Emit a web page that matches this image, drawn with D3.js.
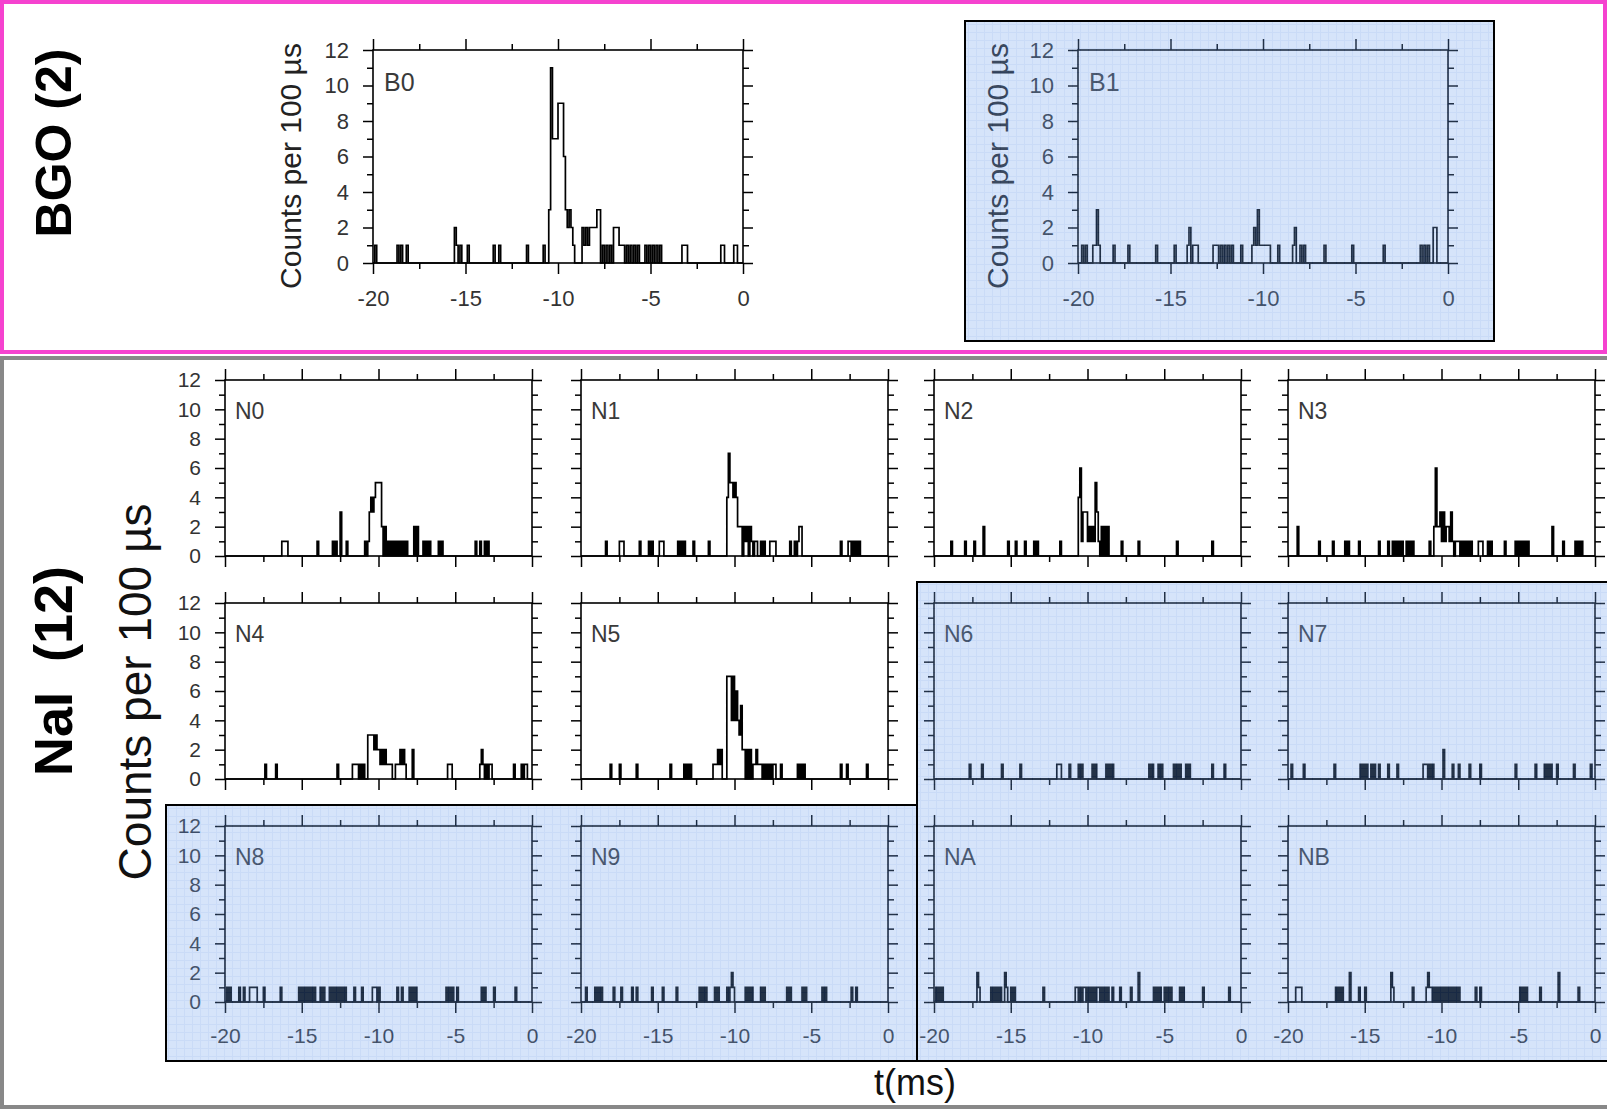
<!DOCTYPE html>
<html>
<head>
<meta charset="utf-8">
<script src="https://cdn.jsdelivr.net/npm/d3@7"></script>
<style>
  body { margin: 0; background: #fff; }
  svg { display: block; }
</style>
</head>
<body>
<div id="chart"></div>
<script>
// Non-zero 100 µs bins per detector: [bin start (ms), counts]
var b0Bins = [
  [-19.9,1],[-18.7,1],[-18.5,1],[-18.2,1],
  [-15.6,2],[-15.5,1],[-15.3,1],[-14.9,1],
  [-13.5,1],[-13.2,1],[-11.7,1],[-10.8,1],
  [-10.5,3],[-10.4,11],[-10.3,7],[-10.2,7],[-10.1,7],[-10.0,9],[-9.9,9],[-9.8,9],[-9.7,6],
  [-9.6,3],[-9.5,2],[-9.4,3],[-9.3,2],[-9.2,1],
  [-8.7,2],[-8.6,1],[-8.5,2],[-8.4,1],[-8.3,2],[-8.2,2],[-8.1,2],[-8.0,2],[-7.9,3],[-7.8,3],
  [-7.6,1],[-7.4,1],[-7.2,1],[-7.0,2],[-6.9,2],[-6.8,2],[-6.7,1],[-6.6,1],[-6.5,1],
  [-6.3,1],[-6.1,1],[-5.9,1],[-5.7,1],[-5.3,1],[-5.1,1],[-4.9,1],[-4.7,1],[-4.5,1],
  [-3.3,1],[-3.2,1],[-3.1,1],[-1.2,1],[-1.1,1],[-0.5,1],[-0.4,1]
];
var b1Bins = [
  [-19.8,1],[-19.6,1],[-19.2,1],[-19.1,1],[-19.0,3],[-18.9,1],[-18.1,1],[-17.3,1],[-15.8,1],[-14.8,1],
  [-14.1,1],[-14.0,2],[-13.8,1],[-13.7,1],[-13.6,1],
  [-12.7,1],[-12.6,1],[-12.5,1],[-12.3,1],[-12.1,1],[-11.9,1],[-11.7,1],[-11.2,1],
  [-10.6,1],[-10.5,2],[-10.4,1],[-10.3,3],[-10.2,1],[-10.1,1],[-10.0,1],[-9.9,1],[-9.8,1],[-9.7,1],
  [-9.2,1],[-8.4,1],[-8.3,2],[-8.0,1],[-7.8,1],[-6.7,1],[-5.2,1],[-3.5,1],
  [-1.5,1],[-1.3,1],[-1.1,1],[-0.8,2],[-0.7,2]
];
var n0Bins = [
  [-16.3,1],[-16.2,1],[-16.1,1],[-16.0,1],[-14.0,1],[-13.0,1],[-12.8,1],[-12.5,3],[-12.1,1],
  [-10.9,1],[-10.7,1],[-10.6,3],[-10.5,4],[-10.4,3],[-10.3,4],[-10.2,5],[-10.1,5],[-10.0,5],[-9.9,5],
  [-9.8,2],[-9.6,2],[-9.4,1],[-9.2,1],[-9.0,1],[-8.8,1],[-8.6,1],[-8.4,1],[-8.2,1],
  [-7.7,2],[-7.5,2],[-7.1,1],[-6.9,1],[-6.7,1],[-6.1,1],[-5.9,1],
  [-3.7,1],[-3.4,1],[-3.1,1],[-2.9,1]
];
var n1Bins = [
  [-18.4,1],[-17.5,1],[-17.4,1],[-17.3,1],[-16.2,1],[-15.6,1],[-15.4,1],[-14.9,1],[-14.8,1],[-14.7,1],
  [-13.7,1],[-13.5,1],[-13.3,1],[-12.7,1],[-11.7,1],
  [-10.5,4],[-10.4,7],[-10.3,5],[-10.2,5],[-10.1,4],[-10.0,5],[-9.9,4],[-9.8,2],[-9.7,2],
  [-9.6,2],[-9.4,2],[-9.3,1],[-9.2,2],[-9.0,2],
  [-8.9,1],[-8.7,1],[-8.6,1],[-8.3,1],[-8.1,1],[-7.7,1],[-7.6,1],[-7.5,1],[-7.4,1],
  [-6.4,1],[-6.1,1],[-5.9,1],[-5.8,2],[-5.7,2],
  [-3.1,1],[-2.6,1],[-2.5,1],[-2.3,1],[-2.1,1],[-1.9,1]
];
var n2Bins = [
  [-18.9,1],[-18.0,1],[-17.4,1],[-16.8,2],[-15.2,1],[-14.7,1],[-14.1,1],[-13.5,1],[-13.3,1],[-11.8,1],
  [-10.6,4],[-10.5,6],[-10.4,1],[-10.3,3],[-10.2,3],[-10.1,3],[-10.0,1],[-9.9,2],[-9.8,1],[-9.7,2],
  [-9.6,1],[-9.5,5],[-9.4,3],[-9.3,1],[-9.1,2],[-8.9,2],[-8.7,2],
  [-7.8,1],[-6.7,1],[-4.2,1],[-1.9,1]
];
var n3Bins = [
  [-19.4,2],[-18.0,1],[-17.1,1],[-16.3,1],[-16.1,1],[-15.4,1],[-14.1,1],
  [-13.5,1],[-13.2,1],[-13.0,1],[-12.8,1],[-12.6,1],[-12.3,1],[-12.1,1],[-11.9,1],
  [-10.8,1],[-10.5,2],[-10.4,6],[-10.3,2],[-10.2,2],[-10.1,3],[-10.0,1],[-9.9,3],[-9.8,1],[-9.7,2],
  [-9.6,2],[-9.5,1],[-9.4,3],[-9.3,1],
  [-9.1,1],[-9.0,1],[-8.9,1],[-8.7,1],[-8.5,1],[-8.3,1],[-8.1,1],[-7.6,1],[-7.5,1],[-7.4,1],
  [-7.0,1],[-6.8,1],[-5.9,1],[-5.2,1],[-5.0,1],[-4.8,1],[-4.6,1],[-4.4,1],
  [-2.8,2],[-2.1,1],[-1.3,1],[-1.1,1],[-0.9,1]
];
var n4Bins = [
  [-17.4,1],[-16.7,1],[-12.7,1],[-11.7,1],[-11.6,1],[-11.5,1],[-11.4,1],[-11.2,1],[-11.0,1],
  [-10.7,3],[-10.6,3],[-10.5,3],[-10.4,3],[-10.3,2],[-10.2,3],[-10.1,2],[-10.0,2],[-9.9,1],
  [-9.8,2],[-9.7,1],[-9.6,2],[-9.5,1],[-9.4,1],[-9.3,1],[-9.2,1],
  [-8.9,1],[-8.8,1],[-8.7,1],[-8.6,2],[-8.5,1],[-8.4,2],[-8.3,1],[-7.8,2],
  [-5.5,1],[-5.4,1],[-5.3,1],[-3.4,1],[-3.3,2],[-3.2,1],[-3.0,1],[-2.8,1],[-2.7,1],
  [-1.2,1],[-0.7,1],[-0.5,1],[-0.4,1]
];
var n5Bins = [
  [-18.1,1],[-17.5,1],[-16.4,1],[-14.2,1],[-13.3,1],[-13.1,1],[-12.9,1],
  [-11.4,1],[-11.3,1],[-11.2,1],[-11.1,2],[-11.0,1],[-10.9,2],
  [-10.5,7],[-10.4,7],[-10.3,7],[-10.2,4],[-10.1,7],[-10.0,4],[-9.9,6],[-9.8,4],[-9.7,3],
  [-9.6,5],[-9.5,2],[-9.4,2],[-9.2,2],[-9.0,2],
  [-8.8,1],[-8.7,1],[-8.6,2],[-8.5,1],[-8.4,1],[-8.3,1],[-8.1,1],[-7.9,1],[-7.7,1],[-7.5,1],[-7.4,1],
  [-7.0,1],[-5.9,1],[-5.7,1],[-5.5,1],[-3.1,1],[-2.7,1],[-1.4,1]
];
var n6Bins = [
  [-17.7,1],[-16.9,1],[-15.6,1],[-14.4,1],[-12.0,1],[-11.9,1],[-11.8,1],[-11.2,1],
  [-10.6,1],[-10.4,1],[-9.7,1],[-9.5,1],[-8.8,1],[-8.6,1],[-8.4,1],
  [-6.0,1],[-5.8,1],[-5.4,1],[-5.2,1],[-4.4,1],[-4.2,1],[-4.0,1],[-3.6,1],[-3.4,1],[-1.9,1],[-1.1,1]
];
var n7Bins = [
  [-19.8,1],[-19.0,1],[-17.0,1],[-15.3,1],[-15.1,1],[-14.9,1],[-14.6,1],[-14.4,1],[-14.1,1],[-13.5,1],[-12.9,1],
  [-11.2,1],[-11.1,1],[-11.0,1],[-10.8,1],[-10.6,1],[-9.9,2],[-9.3,1],[-8.9,1],[-8.2,1],[-7.5,1],
  [-5.2,1],[-3.9,1],[-3.3,1],[-3.1,1],[-2.9,1],[-2.5,1],[-1.4,1],[-0.3,1]
];
var n8Bins = [
  [-19.9,1],[-19.7,1],[-19.1,1],[-18.8,1],[-18.4,1],[-18.3,1],[-18.2,1],[-18.1,1],[-18.0,1],[-17.5,1],[-16.4,1],
  [-15.2,1],[-15.0,1],[-14.8,1],[-14.6,1],[-14.4,1],[-14.2,1],[-13.8,1],[-13.6,1],[-13.2,1],[-13.0,1],
  [-12.8,1],[-12.6,1],[-12.4,1],[-12.2,1],
  [-11.6,1],[-11.1,1],[-10.4,1],[-10.3,1],[-10.2,1],[-10.0,1],[-8.8,1],[-8.5,1],[-8.0,1],[-7.8,1],[-7.6,1],
  [-5.6,1],[-5.4,1],[-5.2,1],[-4.9,1],[-3.3,1],[-3.1,1],[-2.5,1],[-1.1,1]
];
var n9Bins = [
  [-19.7,1],[-19.1,1],[-18.9,1],[-18.7,1],[-17.9,1],[-17.4,1],[-16.7,1],[-16.4,1],[-15.4,1],[-14.7,1],[-13.8,1],
  [-12.3,1],[-12.1,1],[-11.9,1],[-11.3,1],[-11.1,1],[-10.5,1],[-10.3,1],[-10.2,2],[-10.1,1],
  [-9.3,1],[-9.1,1],[-8.9,1],[-8.3,1],[-8.1,1],
  [-6.6,1],[-6.4,1],[-5.6,1],[-5.4,1],[-4.3,1],[-4.1,1],[-2.4,1],[-2.1,1]
];
var naBins = [
  [-19.9,1],[-19.7,1],[-19.5,1],[-17.2,2],[-17.1,1],[-16.3,1],[-16.1,1],[-15.9,1],[-15.7,1],[-15.4,2],
  [-15.3,1],[-15.0,1],[-14.8,1],[-12.9,1],
  [-10.8,1],[-10.7,1],[-10.5,1],[-10.3,1],[-10.2,1],[-10.0,1],[-9.8,1],[-9.6,1],[-9.4,1],[-9.3,1],
  [-9.1,1],[-8.9,1],[-8.7,1],[-8.4,1],[-7.9,1],[-7.2,1],[-6.7,2],
  [-5.7,1],[-5.5,1],[-5.3,1],[-5.0,1],[-4.8,1],[-4.6,1],[-4.0,1],[-3.8,1],[-2.5,1],[-0.8,1]
];
var nbBins = [
  [-19.5,1],[-19.4,1],[-19.3,1],[-19.2,1],[-16.9,1],[-16.7,1],[-16.5,1],[-16.0,2],[-15.4,1],[-15.0,1],
  [-13.3,2],[-13.2,1],[-11.9,1],[-11.0,1],[-10.9,2],[-10.8,1],[-10.7,1],[-10.5,1],[-10.3,1],[-10.1,1],
  [-9.9,1],[-9.7,1],[-9.5,1],[-9.3,1],[-9.1,1],[-8.9,1],
  [-7.8,1],[-7.5,1],[-4.9,1],[-4.7,1],[-4.5,1],[-3.6,1],[-2.4,2],[-1.1,1]
];

var xMajor = [-20, -15, -10, -5, 0];
var xMinor = [-17.5, -12.5, -7.5, -2.5];
var yMajor = [0, 2, 4, 6, 8, 10, 12];
var yMinor = [1, 3, 5, 7, 9, 11];

var FONT = '"Liberation Sans", Arial, Helvetica, sans-serif';

var svg = d3.select('#chart')
    .append('svg')
        .attr('width', 1607)
        .attr('height', 1110)
        .style('background', '#fff');

// light blue squared paper used for the shaded detectors
var pat = svg.append('defs').append('pattern')
    .attr('id', 'paper')
    .attr('patternUnits', 'userSpaceOnUse')
    .attr('width', 8)
    .attr('height', 8);
pat.append('rect').attr('width', 8).attr('height', 8).attr('fill', 'rgb(118,165,238)');
pat.append('path').attr('d', 'M0 0.5H8M0.5 0V8')
    .attr('stroke', 'rgb(80,135,228)').attr('stroke-width', 1);

function toCounts(list) {
    var a = d3.range(200).map(function() { return 0; });
    list.forEach(function(d) {
        var i = Math.round((d[0] + 20) * 10);
        if (i >= 0 && i < 200) a[i] = d[1];
    });
    return a;
}

function drawPanel(p) {
    var x = d3.scaleLinear().domain([-20, 0]).range([p.left, p.left + p.w]);
    var y = d3.scaleLinear().domain([0, 12]).range([p.top + p.h, p.top]);
    var g = svg.append('g');

    var counts = toCounts(p.bins);
    var pts = [[-20, 0]];
    counts.forEach(function(c, i) { pts.push([-20 + i * 0.1, c]); });
    pts.push([0, 0]);

    var line = d3.line()
        .x(function(d) { return x(d[0]); })
        .y(function(d) { return y(d[1]); })
        .curve(d3.curveStepAfter);

    g.append('path')
        .attr('d', line(pts))
        .attr('fill', 'none')
        .attr('stroke', '#000')
        .attr('stroke-width', 1.7);

    // four axes, ticks pointing outward
    function axis(gen, vals, size, labels, pad, tx, ty) {
        var a = gen.tickValues(vals).tickSize(size).tickSizeOuter(0).tickPadding(pad)
            .tickFormat(labels ? function(d) { return String(d); } : '');
        var ag = g.append('g').attr('transform', 'translate(' + tx + ',' + ty + ')').call(a);
        ag.select('.domain').remove();
        ag.selectAll('line').attr('stroke', '#000').attr('stroke-width', 1.5);
        ag.selectAll('text')
            .attr('fill', '#333')
            .style('font-family', FONT)
            .style('font-size', p.fs + 'px');
        return ag;
    }
    axis(d3.axisBottom(x), xMajor, 11, p.xLab, p.xPad, 0, p.top + p.h);
    axis(d3.axisBottom(x), xMinor, 6, false, 0, 0, p.top + p.h);
    axis(d3.axisTop(x), xMajor, 11, false, 0, 0, p.top);
    axis(d3.axisTop(x), xMinor, 6, false, 0, 0, p.top);
    axis(d3.axisLeft(y), yMajor, 10, p.yLab, 14, p.left, 0);
    axis(d3.axisLeft(y), yMinor, 6, false, 0, p.left, 0);
    axis(d3.axisRight(y), yMajor, 10, false, 0, p.left + p.w, 0);
    axis(d3.axisRight(y), yMinor, 6, false, 0, p.left + p.w, 0);

    g.append('rect')
        .attr('x', p.left).attr('y', p.top)
        .attr('width', p.w).attr('height', p.h)
        .attr('fill', 'none')
        .attr('stroke', '#000')
        .attr('stroke-width', 1.6);

    g.append('text')
        .attr('x', p.left + p.lx)
        .attr('y', p.top + p.ly)
        .attr('fill', '#3a3a3a')
        .style('font-family', FONT)
        .style('font-size', p.lfs + 'px')
        .text(p.name);
}

// BGO detectors
drawPanel({ name: 'B0', bins: b0Bins, left: 373, top: 50, w: 370, h: 213,
            xLab: true, yLab: true, fs: 22, xPad: 16, lx: 11, ly: 41, lfs: 25 });
drawPanel({ name: 'B1', bins: b1Bins, left: 1078, top: 50, w: 370, h: 213,
            xLab: true, yLab: true, fs: 22, xPad: 16, lx: 11, ly: 41, lfs: 25 });

[290, 997].forEach(function(cx) {
    svg.append('text')
        .attr('transform', 'translate(' + cx + ',166) rotate(-90)')
        .attr('text-anchor', 'middle')
        .attr('dy', '0.35em')
        .attr('fill', '#222')
        .style('font-family', FONT)
        .style('font-size', '30px')
        .text('Counts per 100 µs');
});

// NaI detectors, 4 x 3 grid
var naiNames = ['N0', 'N1', 'N2', 'N3', 'N4', 'N5', 'N6', 'N7', 'N8', 'N9', 'NA', 'NB'];
var naiBins = [n0Bins, n1Bins, n2Bins, n3Bins, n4Bins, n5Bins, n6Bins, n7Bins, n8Bins, n9Bins, naBins, nbBins];
var colLeft = [225, 581, 934, 1288];
var rowTop = [380, 603, 826];

naiNames.forEach(function(name, i) {
    var c = i % 4, r = Math.floor(i / 4);
    drawPanel({ name: name, bins: naiBins[i], left: colLeft[c], top: rowTop[r], w: 307, h: 176,
                xLab: r === 2, yLab: c === 0, fs: 21, xPad: 15, lx: 10, ly: 39, lfs: 23 });
});

// shaded (blue) detector groups
var shades = [
    'M965,21H1494V341H965Z',
    'M166,805H917V1061H166Z',
    'M917,582H1612V1061H917Z'
];
shades.forEach(function(d) {
    svg.append('path').attr('d', d)
        .attr('fill', 'url(#paper)')
        .attr('opacity', 0.3);
});
shades.forEach(function(d) {
    svg.append('path').attr('d', d)
        .attr('fill', 'none')
        .attr('stroke', '#000')
        .attr('stroke-width', 2);
});

// group frames
svg.append('rect')
    .attr('x', 2).attr('y', 2).attr('width', 1603).attr('height', 350)
    .attr('fill', 'none')
    .attr('stroke', '#f542cf')
    .attr('stroke-width', 4);

svg.append('rect')
    .attr('x', 2).attr('y', 358).attr('width', 1610).attr('height', 749)
    .attr('fill', 'none')
    .attr('stroke', '#888')
    .attr('stroke-width', 4);

svg.append('text')
    .attr('transform', 'translate(53,143) rotate(-90)')
    .attr('text-anchor', 'middle')
    .attr('dy', '0.35em')
    .style('font-family', FONT)
    .style('font-weight', 'bold')
    .style('font-size', '50px')
    .text('BGO (2)');

svg.append('text')
    .attr('transform', 'translate(53,671) rotate(-90)')
    .attr('text-anchor', 'middle')
    .attr('dy', '0.35em')
    .style('font-family', FONT)
    .style('font-weight', 'bold')
    .style('font-size', '54px')
    .style('white-space', 'pre')
    .text('NaI  (12)');

svg.append('text')
    .attr('transform', 'translate(135,692) rotate(-90)')
    .attr('text-anchor', 'middle')
    .attr('dy', '0.35em')
    .attr('fill', '#111')
    .style('font-family', FONT)
    .style('font-size', '46px')
    .text('Counts per 100 µs');

svg.append('text')
    .attr('x', 915).attr('y', 1095)
    .attr('text-anchor', 'middle')
    .attr('fill', '#111')
    .style('font-family', FONT)
    .style('font-size', '36px')
    .text('t(ms)');
</script>
</body>
</html>
